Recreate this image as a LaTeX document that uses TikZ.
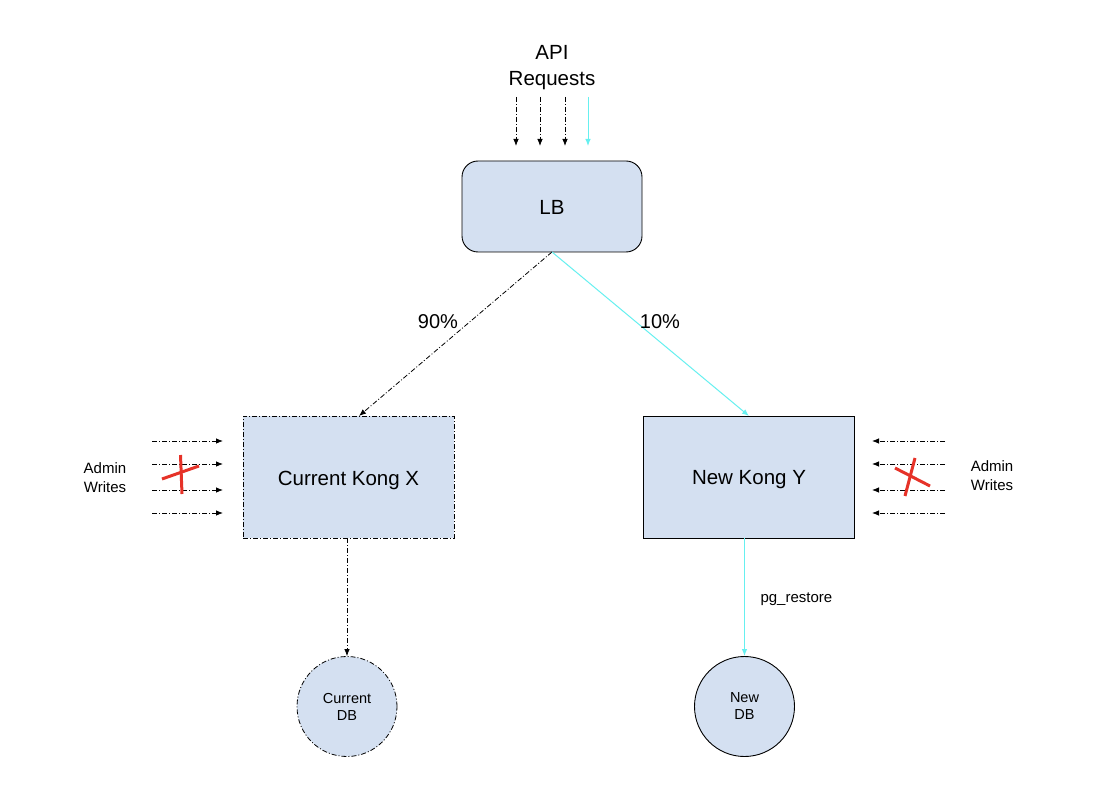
\documentclass[tikz,border=0pt]{standalone}
\usepackage{fontspec}
\setmainfont{Liberation Sans}
\usetikzlibrary{arrows.meta}
\definecolor{boxfill}{RGB}{212,224,241}
\definecolor{cyanline}{RGB}{102,240,240}
\definecolor{crossred}{RGB}{230,50,40}
\begin{document}
\begin{tikzpicture}[x=1pt,y=-1pt,
  dd/.style={draw=black,line width=0.8pt,dash pattern=on 5pt off 2pt on 1pt off 2pt},
  arr/.style={-{Latex[length=7pt,width=5.5pt]}},
  cy/.style={draw=cyanline,line width=1pt},
  boxstyle/.style={fill=boxfill,draw=black,line width=0.9pt,minimum width=211pt,minimum height=122pt,inner sep=0pt,font=\fontsize{20.5}{24}\selectfont},
  dbstyle/.style={circle,fill=boxfill,draw=black,line width=0.9pt,minimum size=100pt,inner sep=0pt,align=center,font=\fontsize{14.5}{17}\selectfont},
  lbl/.style={font=\fontsize{15}{19}\selectfont,align=center},
  pct/.style={font=\fontsize{20}{22}\selectfont},
  xmark/.style={draw=crossred,line width=3pt}
]
\useasboundingbox (0,0) rectangle (1114,786);
\fill[white] (0,0) rectangle (1114,786);

% API requests
\node[font=\fontsize{20.5}{26}\selectfont,align=center] (api) at (552,68) {API\\Requests};
\coordinate (a1s) at (516,97); \coordinate (a1e) at (516,146);
\coordinate (a2s) at (540,97); \coordinate (a2e) at (540,146);
\coordinate (a3s) at (565,97); \coordinate (a3e) at (565,146);
\coordinate (a4s) at (588,97); \coordinate (a4e) at (588,146);
\draw[dd,arr] (a1s) -- (a1e);
\draw[dd,arr] (a2s) -- (a2e);
\draw[dd,arr] (a3s) -- (a3e);
\draw[cy,arr] (a4s) -- (a4e);

% LB
\node[fill=boxfill,draw=black,line width=0.9pt,rounded corners=16pt,minimum width=180pt,minimum height=91pt,inner sep=0pt,font=\fontsize{20.5}{24}\selectfont] (lb) at (552,206.5) {\raisebox{-1pt}[\height][\depth]{LB}};

% Kong boxes
\node[boxstyle,dd,fill=boxfill] (cur) at (348.5,477) {\raisebox{-3pt}[\height][\depth]{Current Kong X}};
\node[boxstyle] (new) at (749,477) {\raisebox{-3pt}[\height][\depth]{New Kong Y}};

% DBs
\node[dbstyle,dd,fill=boxfill] (cdb) at (347,706.5) {Current\\DB};
\node[dbstyle] (ndb) at (744.5,706.5) {New\\DB};

% LB connections
\coordinate (lbb) at (552,252);
\coordinate (curt) at (359,416);
\coordinate (newt) at (749,416);
\draw[dd,arr] (lbb) -- (curt);
\draw[cy,arr] (lbb) -- (newt);
\node[pct] (p90) at (438,322) {90\%};
\node[pct] (p10) at (660,322) {10\%};

% Kong to DB
\draw[dd,arr] (cur.south -| cdb.north) -- (cdb.north);
\draw[cy,arr] (new.south -| ndb.north) -- (ndb.north);
\node[lbl,anchor=west] (pgr) at (757,599) {pg\_restore};

% Left admin writes
\node[lbl] (aw1) at (105,477.5) {Admin\\Writes};
\foreach \y/\n in {441/l1,464/l2,490/l3,513/l4}{
  \coordinate (\n s) at (152,\y);
  \coordinate (\n e) at (223,\y);
  \draw[dd,arr] (\n s) -- (\n e);
}
\draw[xmark] (162,479) -- (199,466);
\draw[xmark] (180.5,455) -- (182,494);

% Right admin writes
\node[lbl] (aw2) at (992,475.5) {Admin\\Writes};
\foreach \y/\n in {441/r1,464/r2,490/r3,513/r4}{
  \coordinate (\n s) at (945,\y);
  \coordinate (\n e) at (872,\y);
  \draw[dd,arr] (\n s) -- (\n e);
}
\draw[xmark] (895,468) -- (930,486);
\draw[xmark] (915,458) -- (905,496);
\end{tikzpicture}
\end{document}
